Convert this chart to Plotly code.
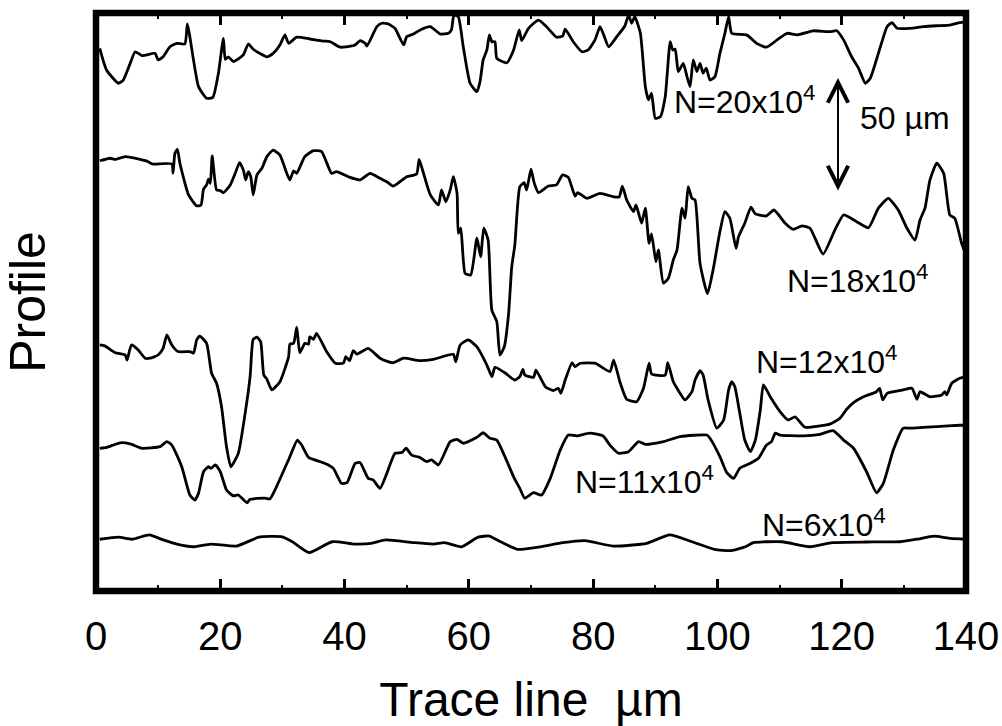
import plotly.graph_objects as go

# Surface profiles (trace position in um, height in um incl. display offset)
profile_n20 = [(0.6,238.0),(1.7,228.5),(3.6,222.7),(4.4,224.1),(5.5,231.4),(6.3,236.5),(7.4,234.8),(9.5,235.8),(10.0,232.9),(10.8,234.3),(11.9,238.7),(13.0,240.2),(14.3,239.9),(14.7,248.7),(15.1,243.1),(16.5,221.2),(17.8,216.1),(18.8,216.5),(19.7,227.1),(20.5,242.4),(20.8,233.2),(21.3,234.3),(22.1,232.2),(23.7,235.1),(24.5,239.9),(25.3,237.6),(27.5,234.3),(28.5,235.8),(29.6,239.5),(30.4,243.9),(31.0,240.2),(32.3,242.9),(34.4,242.1),(36.6,241.2),(37.7,240.9),(39.3,238.5),(41.7,239.5),(42.5,241.4),(43.3,240.2),(43.6,239.0),(45.2,247.5),(46.0,249.0),(47.0,248.7),(48.1,246.8),(49.5,239.5),(50.0,243.1),(51.1,244.3),(52.4,246.4),(53.8,247.5),(55.4,244.3),(56.7,244.6),(57.2,246.1),(57.6,252.6),(58.3,251.9),(59.1,238.7),(60.2,222.7),(61.3,219.0),(61.8,223.4),(62.3,232.9),(62.9,237.3),(63.3,243.9),(63.7,240.9),(64.2,240.9),(64.5,233.6),(66.1,231.7),(67.2,237.3),(68.1,246.1),(68.5,241.4),(69.6,246.8),(71.2,250.4),(72.5,247.5),(74.1,242.9),(75.1,243.4),(75.5,246.4),(76.8,240.9),(78.2,236.5),(79.2,237.3),(80.3,241.7),(81.1,247.5),(81.6,244.6),(82.5,238.7),(83.8,243.1),(85.1,247.8),(85.7,252.6),(86.2,249.0),(86.7,251.9),(87.6,244.6),(88.4,221.2),(88.9,215.4),(89.4,218.3),(90.0,207.3),(90.8,208.0),(91.6,216.8),(92.4,240.9),(92.8,237.3),(93.2,237.6),(93.7,227.8),(94.5,231.4),(95.1,225.6),(95.6,221.2),(96.1,232.9),(96.7,227.8),(97.2,231.4),(97.7,227.1),(98.2,229.3),(98.8,224.1),(99.6,225.6),(100.4,235.8),(101.2,244.6),(101.8,251.9),(102.3,244.6),(104.7,243.9),(106.3,240.2),(107.9,238.5),(109.6,241.7),(111.2,244.6),(112.8,243.9),(115.4,245.7),(118.1,245.3),(119.2,245.7),(120.3,241.7),(121.6,234.3),(122.7,229.3),(123.8,222.7),(124.6,224.9),(125.9,235.8),(127.3,247.5),(128.1,249.3),(128.9,246.8),(131.0,246.8),(133.1,247.5),(135.3,247.9),(137.4,248.2),(139.0,249.3),(140.0,249.6)]

profile_n18 = [(0.6,188.7),(2.3,189.8),(3.1,189.3),(4.7,190.5),(7.1,189.3),(8.4,188.3),(9.0,187.3),(12.2,187.3),(12.4,183.2),(12.7,192.0),(13.1,193.7),(13.5,187.6),(14.9,173.7),(16.2,168.9),(16.9,169.3),(17.3,176.2),(17.8,178.1),(18.1,180.6),(18.4,178.8),(18.7,190.8),(19.4,175.9),(20.0,175.6),(20.5,174.7),(21.6,178.1),(22.4,183.2),(23.1,187.9),(23.7,184.7),(24.1,180.3),(24.5,183.9),(24.9,181.7),(25.3,173.7),(25.9,182.5),(26.7,185.4),(27.5,190.5),(28.5,193.4),(29.6,191.2),(30.7,183.2),(31.2,180.3),(31.8,184.3),(32.3,183.2),(33.6,190.5),(35.0,193.1),(36.3,192.7),(37.9,183.2),(38.7,183.9),(40.6,181.7),(42.5,180.3),(44.1,183.2),(45.7,181.0),(46.8,179.5),(47.8,177.6),(48.9,179.5),(50.0,181.7),(51.6,182.9),(52.0,189.3),(52.7,183.2),(53.8,173.7),(55.1,169.3),(55.6,175.9),(56.3,170.7),(57.0,175.9),(57.5,181.7),(58.1,174.4),(58.3,156.9),(58.7,159.1),(59.4,139.3),(60.3,138.6),(61.3,154.7),(61.9,146.6),(62.4,159.1),(63.1,153.9),(63.7,123.2),(64.5,118.1),(65.0,103.5),(65.7,107.1),(66.4,121.8),(66.9,142.2),(67.4,151.8),(68.2,177.3),(68.9,179.1),(69.3,175.9),(70.0,185.0),(70.5,179.1),(71.2,174.7),(72.8,177.6),(74.1,178.1),(75.1,182.5),(76.0,181.4),(77.1,173.2),(77.5,174.7),(79.0,172.2),(81.1,174.4),(83.3,172.9),(84.2,172.9),(84.7,177.6),(85.4,171.5),(86.5,166.4),(86.9,169.3),(87.8,161.3),(88.4,167.9),(89.0,152.5),(89.4,156.6),(90.1,144.4),(90.5,149.6),(91.3,135.0),(92.1,137.1),(92.9,145.2),(93.5,149.6),(94.3,167.9),(94.8,163.5),(95.3,177.3),(95.9,172.2),(96.4,171.5),(97.2,143.7),(98.4,130.3),(99.3,140.8),(100.4,157.6),(101.2,166.4),(102.0,163.5),(103.0,150.3),(103.4,155.4),(104.4,161.3),(105.4,168.3),(106.1,165.4),(107.9,164.5),(109.1,167.1),(110.9,161.3),(112.2,158.6),(113.6,160.1),(114.9,159.1),(117.0,147.8),(118.9,158.3),(120.3,164.9),(122.4,162.0),(124.3,159.3),(125.9,167.9),(127.5,172.2),(129.1,167.1),(130.5,159.1),(131.8,153.9),(132.6,162.7),(133.4,167.9),(134.2,180.3),(135.3,187.6),(136.4,183.2),(137.4,164.9),(138.2,163.5),(139.3,152.5),(140.0,147.5)]

profile_n12 = [(0.6,107.9),(1.4,107.5),(3.1,104.5),(4.7,103.5),(5.0,101.3),(5.7,107.9),(6.8,105.7),(7.9,102.1),(8.7,102.1),(10.0,103.5),(10.8,106.4),(11.4,112.3),(12.2,107.9),(13.2,105.0),(15.1,105.0),(15.7,104.3),(16.2,110.1),(16.7,111.8),(17.8,108.6),(18.6,95.5),(19.4,91.1),(20.2,80.8),(21.0,63.3),(21.7,54.5),(22.9,60.4),(24.0,77.9),(24.8,94.0),(25.3,110.4),(25.9,111.3),(26.5,109.3),(27.0,94.7),(27.5,92.9),(28.3,88.2),(29.6,91.8),(31.0,102.8),(31.2,108.3),(31.8,108.6),(32.3,115.7),(32.8,104.5),(33.6,108.6),(34.2,108.3),(34.4,111.5),(35.0,110.4),(35.5,113.0),(37.1,105.0),(38.5,99.9),(39.8,99.9),(40.2,102.8),(40.8,101.0),(41.4,105.4),(42.0,103.9),(43.8,106.4),(45.7,102.1),(47.0,100.6),(47.8,100.1),(49.5,102.1),(52.1,101.0),(54.3,101.6),(57.5,103.8),(57.9,100.6),(58.6,107.9),(59.9,110.1),(61.3,107.1),(62.9,99.1),(63.7,94.0),(64.2,98.1),(65.8,95.7),(67.4,92.5),(68.2,94.0),(68.7,97.2),(69.0,94.7),(70.4,93.7),(70.8,96.9),(72.3,89.6),(73.6,87.9),(74.4,88.9),(74.8,86.7),(75.5,92.5),(76.6,100.1),(77.1,98.4),(77.9,99.9),(80.3,99.9),(82.7,96.2),(83.3,101.3),(84.3,91.8),(85.4,84.1),(87.0,83.0),(88.1,88.9),(89.0,99.9),(89.4,95.2),(91.6,94.7),(92.0,100.1),(92.9,91.8),(93.5,88.9),(94.8,83.8),(95.9,87.4),(96.4,92.5),(97.2,96.6),(97.7,94.7),(98.5,83.8),(99.9,71.4),(101.0,75.0),(101.8,88.2),(102.3,91.8),(102.8,89.6),(103.6,77.9),(104.4,66.2),(105.3,61.1),(106.1,66.2),(106.9,79.4),(107.4,90.4),(108.5,85.2),(110.1,78.6),(111.4,75.0),(112.5,76.4),(114.1,71.8),(116.5,72.4),(118.1,73.2),(119.7,75.7),(120.8,79.7),(121.9,82.6),(123.5,85.2),(125.6,87.4),(126.1,88.9),(126.6,83.8),(127.3,86.7),(129.9,88.2),(131.3,88.9),(132.1,84.1),(132.6,87.4),(134.2,85.2),(136.1,86.0),(136.6,87.4),(136.9,86.0),(137.7,91.1),(139.0,93.3),(140.0,93.9)]

profile_n11 = [(0.6,62.6),(1.7,63.0),(3.9,65.0),(5.5,64.5),(7.4,62.6),(10.3,63.3),(11.4,65.5),(12.2,64.0),(13.8,54.5),(15.1,42.1),(15.9,39.9),(16.5,42.9),(17.3,52.3),(18.1,54.5),(18.5,53.8),(19.2,55.3),(20.0,52.3),(21.0,44.3),(22.1,41.7),(22.9,42.1),(24.3,38.7),(24.8,40.2),(27.2,40.7),(28.0,40.4),(28.8,44.3),(31.2,58.9),(32.4,66.2),(33.1,64.0),(34.2,58.6),(36.1,56.7),(37.4,55.3),(38.2,53.8),(39.5,47.2),(40.4,47.5),(41.7,56.0),(42.5,56.3),(43.8,49.4),(44.6,48.7),(45.7,45.0),(46.8,51.6),(48.1,60.4),(49.2,60.7),(49.9,62.6),(50.8,59.6),(52.1,58.6),(53.2,56.7),(54.0,57.5),(55.1,55.3),(57.0,65.5),(58.1,66.5),(59.1,64.8),(61.3,67.4),(62.3,69.4),(63.4,67.0),(64.5,66.2),(65.8,58.9),(67.2,50.1),(68.2,45.0),(69.0,40.7),(70.4,43.1),(71.7,42.1),(73.1,49.4),(74.7,61.8),(76.0,68.4),(77.4,68.0),(79.5,69.2),(81.6,68.0),(82.7,64.0),(84.1,60.4),(85.7,61.1),(87.3,65.5),(88.4,64.3),(91.3,65.5),(94.0,67.7),(98.3,68.4),(98.8,67.0),(100.4,58.9),(101.5,51.9),(102.6,49.4),(103.6,53.8),(105.3,56.0),(106.6,58.2),(107.9,64.0),(108.7,65.5),(109.3,69.2),(110.1,68.4),(113.8,68.0),(116.5,68.7),(118.6,70.3),(120.3,66.2),(121.9,62.6),(124.0,52.3),(125.6,43.1),(126.7,47.2),(128.3,61.8),(129.9,71.4),(131.0,71.4),(135.3,72.1),(139.0,72.7),(140.0,72.8)]

profile_n6 = [(0.6,22.7),(3.6,23.6),(5.8,22.7),(8.6,24.6),(10.8,22.4),(13.5,20.2),(15.8,19.4),(18.5,20.6),(22.6,19.7),(26.2,23.6),(29.8,23.8),(31.6,21.6),(34.3,16.8),(38.0,21.6),(41.6,20.6),(44.3,20.9),(46.6,22.4),(51.1,21.2),(54.3,20.6),(56.1,21.2),(58.8,19.4),(61.5,23.6),(63.3,24.1),(65.1,21.6),(67.8,18.3),(71.5,19.4),(75.1,21.2),(78.7,22.1),(83.2,19.7),(88.6,20.9),(92.3,24.6),(95.9,21.6),(99.5,18.3),(102.2,17.7),(104.5,19.4),(105.8,21.2),(110.4,21.6),(114.9,19.4),(118.5,21.2),(124.0,21.5),(129.4,21.6),(132.1,22.7),(134.8,24.1),(137.5,23.1),(140.0,22.7)]

profiles = [profile_n20, profile_n18, profile_n12, profile_n11, profile_n6]

# Curve labels: (text, x, y)
label_texts = ["N=20x10<sup>4</sup>", "N=18x10<sup>4</sup>", "N=12x10<sup>4</sup>",
               "N=11x10<sup>4</sup>", "N=6x10<sup>4</sup>"]
label_x = [104.3, 122.5, 117.6, 88.2, 117.2]
label_y = [215.4, 136.8, 101.3, 48.7, 29.8]

# 50 um scale bar
scale_x = 119.4
scale_y0, scale_len = 175.0, 50.0
scale_text = "50 µm"
scale_text_x, scale_text_y = 130.2, 207.5

x_range = [0, 140]
y_range = [0, 253.5]
x_tick_vals = [0, 20, 40, 60, 80, 100, 120, 140]

FONT = "Liberation Sans, Arial, Helvetica, sans-serif"

fig = go.Figure()
for prof in profiles:
    xs = [p[0] for p in prof]
    ys = [p[1] for p in prof]
    fig.add_trace(go.Scatter(x=xs, y=ys, mode="lines",
                             line=dict(color="black", width=2.8, shape="spline",
                                       smoothing=0.5),
                             showlegend=False, hoverinfo="skip"))

annotations = []
for t, lx, ly in zip(label_texts, label_x, label_y):
    annotations.append(dict(x=lx, y=ly, xref="x", yref="y", text=t, showarrow=False,
                            xanchor="center", yanchor="middle",
                            font=dict(family=FONT, size=32, color="black")))
annotations.append(dict(x=scale_x, y=scale_y0 + scale_len, ax=scale_x, ay=scale_y0,
                        xref="x", yref="y", axref="x", ayref="y", text="",
                        showarrow=True, arrowhead=5, startarrowhead=5,
                        arrowside="end+start", arrowsize=2, startarrowsize=2,
                        arrowwidth=2, arrowcolor="black", standoff=0, startstandoff=0))
annotations.append(dict(x=scale_text_x, y=scale_text_y, xref="x", yref="y", text=scale_text,
                        showarrow=False, xanchor="center", yanchor="middle",
                        font=dict(family=FONT, size=32, color="black")))

fig.update_layout(
    width=1002, height=726,
    margin=dict(l=96, r=36, t=13, b=135, autoexpand=False),
    paper_bgcolor="white", plot_bgcolor="white",
    annotations=annotations,
    shapes=[dict(type="rect", xref="paper", yref="paper", x0=0, x1=1, y0=0, y1=1,
                 line=dict(color="black", width=6.5), layer="above")],
    xaxis=dict(range=x_range, tickvals=x_tick_vals, ticks="inside", ticklen=12,
               tickwidth=2.5, tickcolor="black", mirror="ticks", showline=False,
               showgrid=False, zeroline=False, ticklabelstandoff=18,
               ticklabeloverflow="allow", automargin=False,
               minor=dict(dtick=10, tick0=0, ticks="inside", ticklen=6, tickwidth=2,
                          tickcolor="black", showgrid=False),
               tickfont=dict(family=FONT, size=40, color="black"),
               title=dict(text="Trace line\u00a0 µm", standoff=28,
                          font=dict(family=FONT, size=48, color="black"))),
    yaxis=dict(range=y_range, showticklabels=False, ticks="", showgrid=False,
               zeroline=False, showline=False, automargin=False,
               title=dict(text="Profile", standoff=36,
                          font=dict(family=FONT, size=50, color="black"))),
)

fig.write_html("out.html", config={"displayModeBar": False},
               post_script="document.body.style.margin='0';document.body.style.overflow='hidden';")
